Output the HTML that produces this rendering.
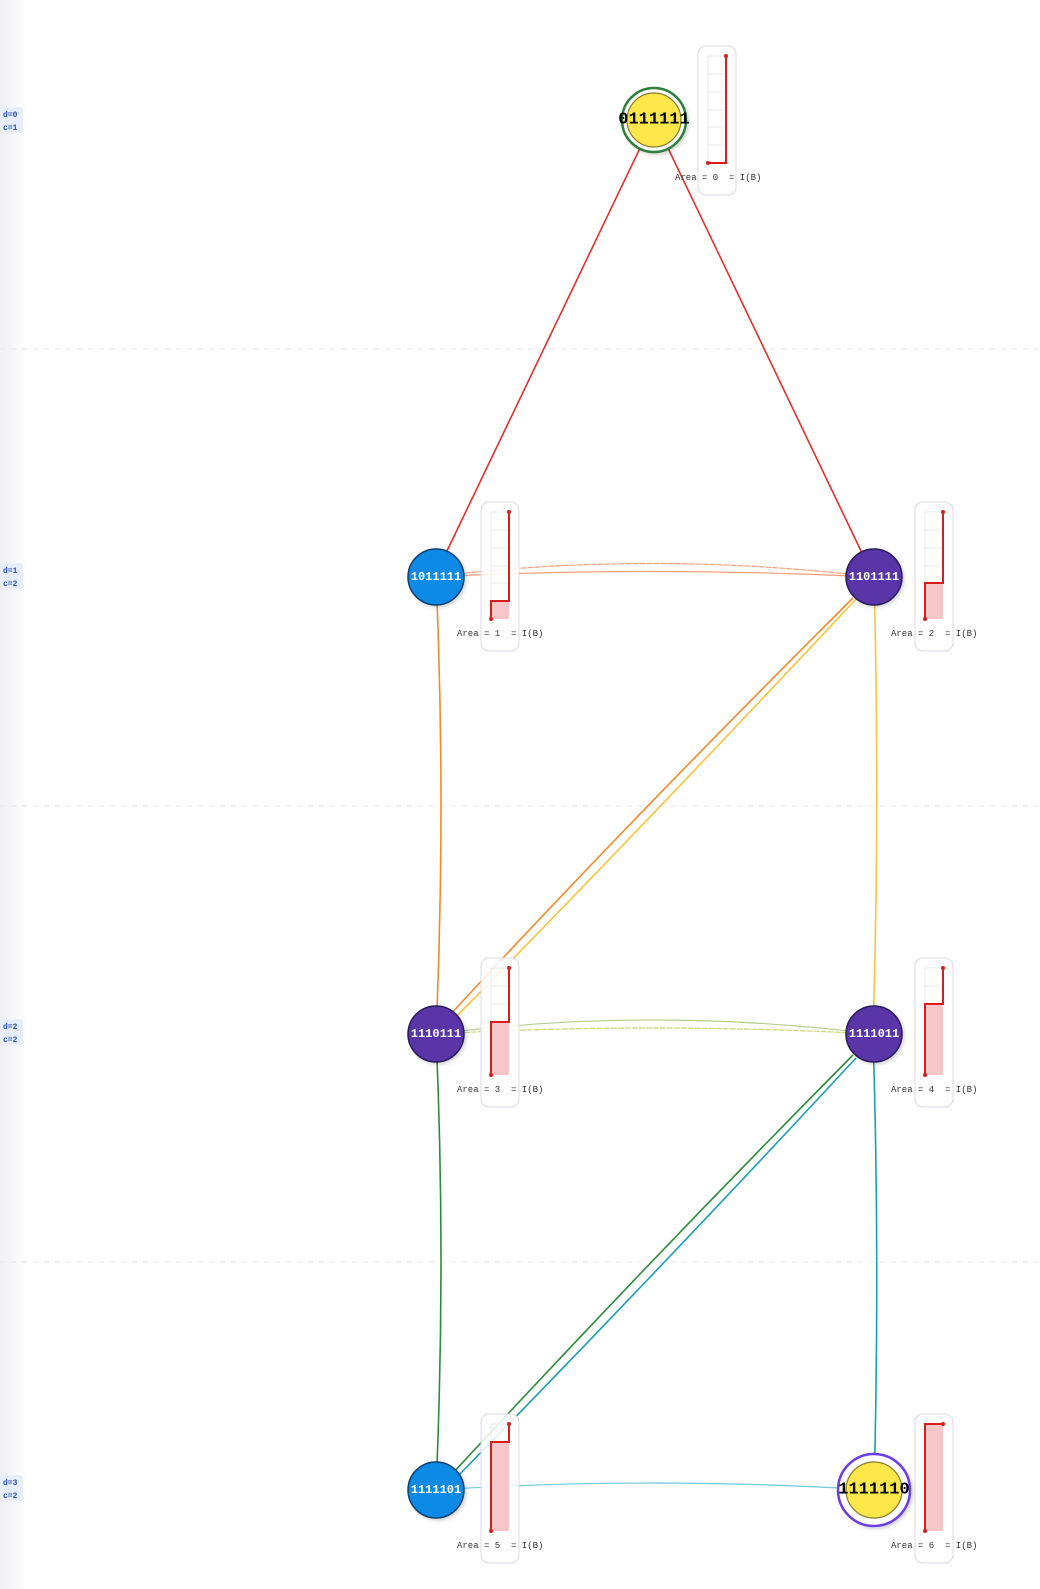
<!DOCTYPE html>
<html><head><meta charset="utf-8"><style>
html,body{margin:0;padding:0;background:#fff;}
svg{display:block;}
.lbl{font-family:"Liberation Mono",monospace;font-size:9px;fill:#333;}
.nt{font-family:"Liberation Mono",monospace;font-weight:bold;font-size:12px;text-anchor:middle;dominant-baseline:central;}
.side{font-family:"Liberation Mono",monospace;font-weight:bold;font-size:8px;fill:#2a4fb0;}
</style></head><body>
<svg width="1040" height="1589" viewBox="0 0 1040 1589" xmlns="http://www.w3.org/2000/svg">
<defs>
<linearGradient id="sb" x1="0" x2="1" y1="0" y2="0">
<stop offset="0" stop-color="#f0f0f2"/><stop offset="1" stop-color="#ffffff"/>
</linearGradient>
<filter id="sh" x="-30%" y="-30%" width="160%" height="160%"><feDropShadow dx="2" dy="2" stdDeviation="1.5" flood-color="#000" flood-opacity="0.15"/></filter>
</defs>
<rect x="0" y="0" width="28" height="1589" fill="url(#sb)"/>
<g stroke="#e6e6ee" stroke-width="1" stroke-dasharray="5,6">
<line x1="0" y1="349" x2="1040" y2="349"/>
<line x1="0" y1="806" x2="1040" y2="806"/>
<line x1="0" y1="1262" x2="1040" y2="1262"/>
</g>
<!-- side labels -->
<g>
<rect x="0" y="107" width="23" height="26" rx="3" fill="#e6edfb"/>
<text class="side" x="3" y="117">d=0</text><text class="side" x="3" y="130">c=1</text>
<rect x="0" y="563" width="23" height="26" rx="3" fill="#e6edfb"/>
<text class="side" x="3" y="573">d=1</text><text class="side" x="3" y="586">c=2</text>
<rect x="0" y="1019" width="23" height="26" rx="3" fill="#e6edfb"/>
<text class="side" x="3" y="1029">d=2</text><text class="side" x="3" y="1042">c=2</text>
<rect x="0" y="1475" width="23" height="26" rx="3" fill="#e6edfb"/>
<text class="side" x="3" y="1485">d=3</text><text class="side" x="3" y="1498">c=2</text>
</g>
<!-- edges -->
<g fill="none" stroke-width="1.6">
<line x1="641" y1="146" x2="446" y2="553" stroke="#e03030"/>
<line x1="667" y1="146" x2="862" y2="553" stroke="#e03030"/>
<path d="M430,577 Q650,550 874,577" stroke="#f5a07a" stroke-width="1.2" stroke-dasharray="6,1"/>
<path d="M430,577 Q650,566 874,577" stroke="#f5a07a" stroke-width="1.2"/>
<path d="M436,577 Q446,805 436,1034" stroke="#f28a2a"/>
<path d="M853,598 Q630,820 448,1017" stroke="#f28a2a"/>
<path d="M857,598 Q640,830 452,1021" stroke="#f7c43a"/>
<path d="M874,577 Q880,805 873,1034" stroke="#f7c43a"/>
<path d="M436,1034 Q650,1006 874,1034" stroke="#b5d08a" stroke-width="1.2"/>
<path d="M436,1034 Q650,1022 874,1034" stroke="#c8d87a" stroke-width="1.2" stroke-dasharray="6,1"/>
<path d="M436,1034 Q446,1260 436,1490" stroke="#2e8b3e"/>
<path d="M853,1055 Q650,1260 452,1474" stroke="#2e8b3e"/>
<path d="M856,1058 Q650,1280 456,1478" stroke="#1a9fb0"/>
<path d="M873,1034 Q880,1260 874,1490" stroke="#1a9fb0"/>
<path d="M436,1490 Q650,1476 874,1490" stroke="#6ccbd8" stroke-width="1.2"/>
</g>
<!-- charts -->
<g id="charts">
<!-- chart template: box, grid, fill, path -->
<g transform="translate(0,0)">
<rect x="698" y="46" width="38" height="149" rx="8" fill="rgba(255,255,255,0.85)" stroke="#d8d8e4"/>
<g stroke="#e8e8f0"><line x1="708" y1="56" x2="708" y2="163"/><line x1="708" y1="56" x2="726" y2="56"/><line x1="708" y1="74" x2="726" y2="74"/><line x1="708" y1="92" x2="726" y2="92"/><line x1="708" y1="110" x2="726" y2="110"/><line x1="708" y1="127" x2="726" y2="127"/><line x1="708" y1="145" x2="726" y2="145"/></g>
<path d="M708,163 H726 V56" fill="none" stroke="#d91c1c" stroke-width="2"/>
<circle cx="708" cy="163" r="2" fill="#d91c1c"/><circle cx="726" cy="56" r="2" fill="#d91c1c"/>
<text class="lbl" x="675" y="180" xml:space="preserve">Area = 0  = I(B)</text>
</g>
</g>
<g>
<rect x="481" y="502" width="38" height="149" rx="8" fill="rgba(255,255,255,0.85)" stroke="#d8d8e4"/>
<g stroke="#e8e8f0"><line x1="491" y1="512" x2="491" y2="619"/><line x1="491" y1="512" x2="509" y2="512"/><line x1="491" y1="530" x2="509" y2="530"/><line x1="491" y1="548" x2="509" y2="548"/><line x1="491" y1="566" x2="509" y2="566"/><line x1="491" y1="583" x2="509" y2="583"/><line x1="491" y1="601" x2="509" y2="601"/></g>
<rect x="491" y="601" width="18" height="18" fill="#f7c6c8"/>
<path d="M491,619 V601 H509 V512" fill="none" stroke="#d91c1c" stroke-width="2"/>
<circle cx="491" cy="619" r="2" fill="#d91c1c"/><circle cx="509" cy="512" r="2" fill="#d91c1c"/>
<text class="lbl" x="457" y="636" xml:space="preserve">Area = 1  = I(B)</text>
</g>
<g>
<rect x="915" y="502" width="38" height="149" rx="8" fill="rgba(255,255,255,0.85)" stroke="#d8d8e4"/>
<g stroke="#e8e8f0"><line x1="925" y1="512" x2="925" y2="619"/><line x1="925" y1="512" x2="943" y2="512"/><line x1="925" y1="530" x2="943" y2="530"/><line x1="925" y1="548" x2="943" y2="548"/><line x1="925" y1="566" x2="943" y2="566"/><line x1="925" y1="583" x2="943" y2="583"/><line x1="925" y1="601" x2="943" y2="601"/></g>
<rect x="925" y="583" width="18" height="36" fill="#f7c6c8"/>
<path d="M925,619 V583 H943 V512" fill="none" stroke="#d91c1c" stroke-width="2"/>
<circle cx="925" cy="619" r="2" fill="#d91c1c"/><circle cx="943" cy="512" r="2" fill="#d91c1c"/>
<text class="lbl" x="891" y="636" xml:space="preserve">Area = 2  = I(B)</text>
</g>
<g>
<rect x="481" y="958" width="38" height="149" rx="8" fill="rgba(255,255,255,0.85)" stroke="#d8d8e4"/>
<g stroke="#e8e8f0"><line x1="491" y1="968" x2="491" y2="1075"/><line x1="491" y1="968" x2="509" y2="968"/><line x1="491" y1="986" x2="509" y2="986"/><line x1="491" y1="1004" x2="509" y2="1004"/><line x1="491" y1="1022" x2="509" y2="1022"/><line x1="491" y1="1039" x2="509" y2="1039"/><line x1="491" y1="1057" x2="509" y2="1057"/></g>
<rect x="491" y="1022" width="18" height="53" fill="#f7c6c8"/>
<path d="M491,1075 V1022 H509 V968" fill="none" stroke="#d91c1c" stroke-width="2"/>
<circle cx="491" cy="1075" r="2" fill="#d91c1c"/><circle cx="509" cy="968" r="2" fill="#d91c1c"/>
<text class="lbl" x="457" y="1092" xml:space="preserve">Area = 3  = I(B)</text>
</g>
<g>
<rect x="915" y="958" width="38" height="149" rx="8" fill="rgba(255,255,255,0.85)" stroke="#d8d8e4"/>
<g stroke="#e8e8f0"><line x1="925" y1="968" x2="925" y2="1075"/><line x1="925" y1="968" x2="943" y2="968"/><line x1="925" y1="986" x2="943" y2="986"/><line x1="925" y1="1004" x2="943" y2="1004"/><line x1="925" y1="1022" x2="943" y2="1022"/><line x1="925" y1="1039" x2="943" y2="1039"/><line x1="925" y1="1057" x2="943" y2="1057"/></g>
<rect x="925" y="1004" width="18" height="71" fill="#f7c6c8"/>
<path d="M925,1075 V1004 H943 V968" fill="none" stroke="#d91c1c" stroke-width="2"/>
<circle cx="925" cy="1075" r="2" fill="#d91c1c"/><circle cx="943" cy="968" r="2" fill="#d91c1c"/>
<text class="lbl" x="891" y="1092" xml:space="preserve">Area = 4  = I(B)</text>
</g>
<g>
<rect x="481" y="1414" width="38" height="149" rx="8" fill="rgba(255,255,255,0.85)" stroke="#d8d8e4"/>
<g stroke="#e8e8f0"><line x1="491" y1="1424" x2="491" y2="1531"/><line x1="491" y1="1424" x2="509" y2="1424"/><line x1="491" y1="1442" x2="509" y2="1442"/><line x1="491" y1="1460" x2="509" y2="1460"/><line x1="491" y1="1478" x2="509" y2="1478"/><line x1="491" y1="1495" x2="509" y2="1495"/><line x1="491" y1="1513" x2="509" y2="1513"/></g>
<rect x="491" y="1442" width="18" height="89" fill="#f7c6c8"/>
<path d="M491,1531 V1442 H509 V1424" fill="none" stroke="#d91c1c" stroke-width="2"/>
<circle cx="491" cy="1531" r="2" fill="#d91c1c"/><circle cx="509" cy="1424" r="2" fill="#d91c1c"/>
<text class="lbl" x="457" y="1548" xml:space="preserve">Area = 5  = I(B)</text>
</g>
<g>
<rect x="915" y="1414" width="38" height="149" rx="8" fill="rgba(255,255,255,0.85)" stroke="#d8d8e4"/>
<g stroke="#e8e8f0"><line x1="925" y1="1424" x2="925" y2="1531"/><line x1="925" y1="1424" x2="943" y2="1424"/><line x1="925" y1="1442" x2="943" y2="1442"/><line x1="925" y1="1460" x2="943" y2="1460"/><line x1="925" y1="1478" x2="943" y2="1478"/><line x1="925" y1="1495" x2="943" y2="1495"/><line x1="925" y1="1513" x2="943" y2="1513"/></g>
<rect x="925" y="1424" width="18" height="107" fill="#f7c6c8"/>
<path d="M925,1531 V1424 H943" fill="none" stroke="#d91c1c" stroke-width="2"/>
<circle cx="925" cy="1531" r="2" fill="#d91c1c"/><circle cx="943" cy="1424" r="2" fill="#d91c1c"/>
<text class="lbl" x="891" y="1548" xml:space="preserve">Area = 6  = I(B)</text>
</g>
<!-- nodes -->
<g filter="url(#sh)">
<circle cx="654" cy="120" r="32" fill="#fff" stroke="#2e7d3a" stroke-width="2.5"/>
<circle cx="654" cy="120" r="27" fill="#fde74c" stroke="#8a7a2a" stroke-width="1.2"/>
<circle cx="436" cy="577" r="28" fill="#0b8ae6" stroke="#0f3f6e" stroke-width="1.5"/>
<circle cx="874" cy="577" r="28" fill="#5a36a8" stroke="#2a1a5a" stroke-width="1.5"/>
<circle cx="436" cy="1034" r="28" fill="#5a36a8" stroke="#2a1a5a" stroke-width="1.5"/>
<circle cx="874" cy="1034" r="28" fill="#5a36a8" stroke="#2a1a5a" stroke-width="1.5"/>
<circle cx="436" cy="1490" r="28" fill="#0b8ae6" stroke="#0f3f6e" stroke-width="1.5"/>
<circle cx="874" cy="1490" r="36" fill="#fff" stroke="#6a3ee8" stroke-width="2.5"/>
<circle cx="874" cy="1490" r="28" fill="#fde74c" stroke="#8a7a2a" stroke-width="1.2"/>
</g>
<text class="nt" x="654" y="120" fill="#000" style="font-size:17px">0111111</text>
<text class="nt" x="436" y="577" fill="#fff">1011111</text>
<text class="nt" x="874" y="577" fill="#fff">1101111</text>
<text class="nt" x="436" y="1034" fill="#fff">1110111</text>
<text class="nt" x="874" y="1034" fill="#fff">1111011</text>
<text class="nt" x="436" y="1490" fill="#fff">1111101</text>
<text class="nt" x="874" y="1490" fill="#000" style="font-size:17px">1111110</text>
</svg>
</body></html>
